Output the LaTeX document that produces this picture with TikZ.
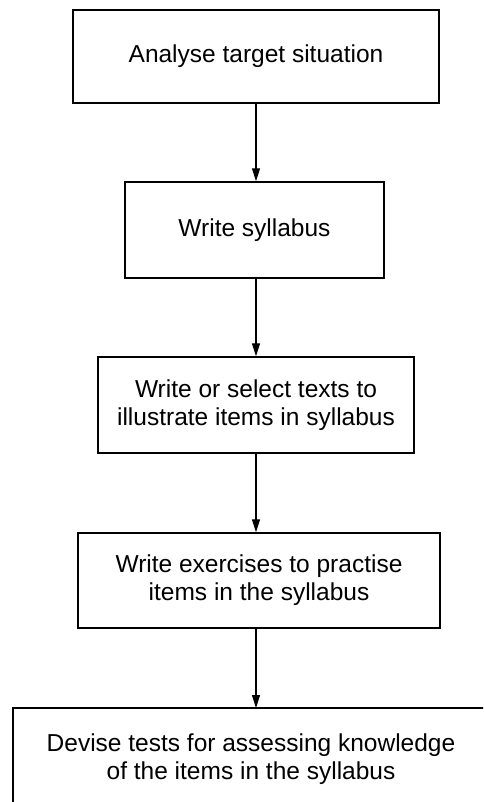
\documentclass[tikz,border=0pt]{standalone}
\usepackage{fontspec}
\setmainfont{Liberation Sans}
\usetikzlibrary{arrows.meta}
\begin{document}
\begin{tikzpicture}[x=1pt,y=-1pt,
  stage/.style={draw, line width=1.4pt, inner sep=0pt, align=center,
    font=\fontsize{24.5}{28}\selectfont},
  flow/.style={line width=1.3pt, -{Triangle[width=8pt,length=13pt]}}]
\useasboundingbox (0,0) rectangle (483,802);
\clip (0,0) rectangle (483,802);

\node[stage, minimum width=366pt, minimum height=93pt] (s1) at (256,56.5)
  {Analyse target situation};
\node[stage, minimum width=259pt, minimum height=96pt] (s2) at (254.5,230)
  {Write syllabus};
\node[stage, minimum width=316pt, minimum height=96pt] (s3) at (256,405)
  {Write or select texts to\\illustrate items in syllabus};
\node[stage, minimum width=362pt, minimum height=95pt] (s4) at (259,580.5)
  {Write exercises to practise\\items in the syllabus};

% last stage runs off the page at the right and the bottom
\node[draw=none, minimum width=500pt, minimum height=120pt, inner sep=0pt,
  anchor=north west] (s5) at (13,708) {};
\node[font=\fontsize{24.5}{28}\selectfont, align=center] (t5) at (251,759)
  {Devise tests for assessing knowledge\\of the items in the syllabus};
\draw[line width=1.4pt] (s5.south west) -- (s5.north west) -- (s5.north east);

\coordinate (spine) at (256,0);
\draw[flow] (s1.south -| spine) -- (s2.north -| spine);
\draw[flow] (s2.south -| spine) -- (s3.north -| spine);
\draw[flow] (s3.south -| spine) -- (s4.north -| spine);
\draw[flow] (s4.south -| spine) -- (s5.north -| spine);
\end{tikzpicture}
\end{document}
